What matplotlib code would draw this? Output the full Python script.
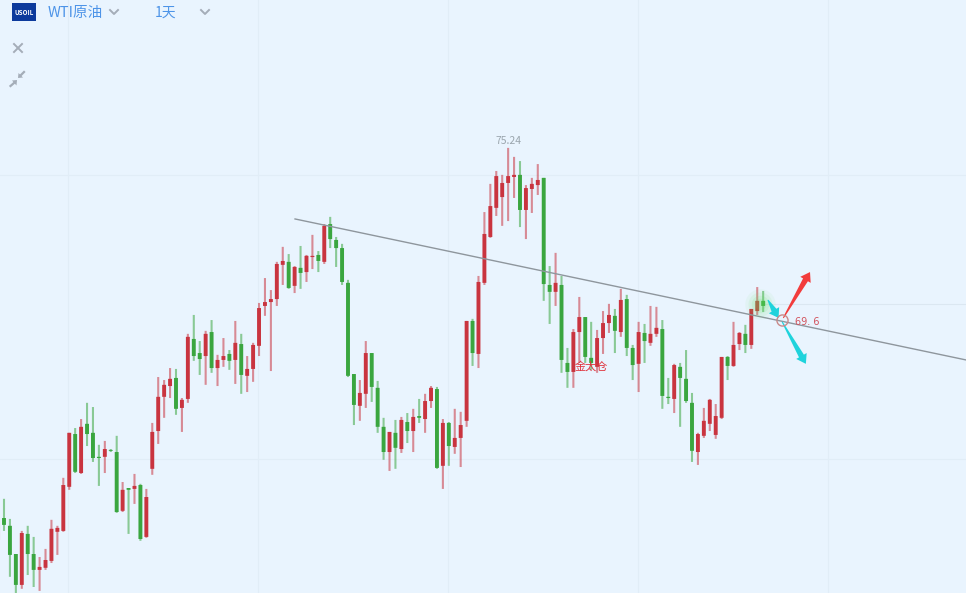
import matplotlib
matplotlib.use('Agg')
import matplotlib.pyplot as plt
import numpy as np
from matplotlib.patches import Polygon, Rectangle
from matplotlib.transforms import IdentityTransform

plt.rcParams['font.family'] = ['Noto Sans CJK SC', 'DejaVu Sans']

# daily candles, oldest first
opens = [62.17, 62.90, 62.64, 61.70, 60.67, 62.37, 61.70, 61.17, 61.24, 61.47, 62.44,
         62.47, 63.94, 65.70, 64.40, 66.04, 65.74, 64.94, 64.94, 65.17, 65.10,
         63.14, 63.90, 63.87, 64.00, 62.27, 64.54, 65.80, 66.94, 67.30, 67.57,
         66.57, 66.87, 68.87, 68.40, 68.30, 69.10, 67.90, 68.17, 68.37, 68.17,
         68.70, 67.64, 67.87, 68.64, 69.97, 70.10, 70.20, 71.34, 71.44, 70.64,
         71.24, 71.10, 71.60, 71.67, 71.44, 72.70, 72.17, 71.90, 70.74, 67.70,
         66.64, 67.04, 68.40, 67.24, 65.94, 65.10, 65.74, 65.20, 66.10, 65.80,
         66.30, 66.20, 66.80, 67.20, 64.64, 66.07, 65.27, 65.57, 66.14, 69.47,
         68.37, 70.74, 72.27, 73.24, 73.60, 74.07, 74.27, 74.34, 73.17, 73.87,
         74.00, 74.24, 70.67, 70.44, 70.67, 68.07, 67.77, 69.10, 69.60, 68.24,
         67.94, 68.90, 69.40, 69.64, 69.10, 70.20, 68.57, 68.04, 69.07, 68.74,
         69.04, 69.20, 66.94, 66.87, 67.94, 67.54, 66.74, 65.10, 65.64, 66.04,
         65.67, 66.24, 68.27, 67.97, 68.70, 69.04, 68.67, 69.80, 70.14]
closes = [62.84, 62.67, 61.67, 60.67, 62.40, 61.70, 61.17, 61.27, 61.50, 62.54, 62.57,
          64.00, 65.74, 64.44, 65.94, 65.70, 64.90, 64.90, 65.20, 65.14, 63.10,
          63.84, 63.84, 63.97, 62.20, 63.60, 65.77, 66.94, 67.34, 67.54, 66.54,
          66.84, 68.94, 68.30, 68.20, 69.04, 67.90, 68.17, 68.30, 68.14, 68.74,
          67.67, 67.87, 68.67, 69.90, 70.10, 70.20, 71.37, 71.47, 70.57, 71.27,
          71.07, 71.64, 71.64, 71.47, 72.64, 72.20, 71.90, 70.77, 67.64, 66.67,
          67.07, 68.40, 67.27, 65.94, 65.10, 65.77, 65.24, 66.17, 65.80, 66.27,
          66.24, 66.80, 67.24, 64.57, 66.07, 65.30, 65.57, 66.00, 69.47, 68.40,
          70.77, 72.37, 73.30, 74.30, 74.07, 74.30, 74.34, 73.17, 73.90, 74.04,
          74.17, 70.70, 70.44, 70.74, 68.17, 67.77, 69.10, 69.60, 68.27, 68.07,
          68.90, 69.40, 69.67, 69.14, 70.17, 68.57, 68.00, 69.10, 68.80, 69.04,
          69.24, 66.97, 66.90, 68.00, 67.57, 66.80, 65.14, 65.70, 66.14, 66.84,
          66.30, 68.27, 67.97, 68.67, 69.07, 68.67, 69.87, 70.14, 69.97]
highs = [62.90, 63.54, 62.87, 61.70, 62.47, 62.64, 62.27, 61.60, 61.87, 62.84, 62.64,
         64.24, 65.74, 65.90, 66.20, 66.74, 66.60, 65.34, 65.47, 65.20, 65.64,
         64.10, 63.90, 64.37, 64.04, 63.87, 66.07, 67.60, 67.50, 67.90, 67.87,
         66.90, 69.04, 69.67, 68.80, 69.14, 69.50, 68.34, 68.90, 68.50, 69.47,
         69.04, 68.30, 68.74, 70.07, 70.90, 70.50, 71.44, 71.94, 71.70, 71.30,
         71.97, 71.67, 72.34, 71.80, 72.70, 72.94, 72.27, 72.04, 70.84, 67.70,
         67.50, 68.80, 68.40, 67.47, 66.24, 65.77, 66.17, 66.27, 66.40, 66.54,
         66.87, 67.04, 67.30, 67.27, 66.20, 66.10, 66.54, 66.44, 69.47, 69.54,
         70.97, 73.10, 74.04, 74.47, 74.34, 75.24, 74.94, 74.80, 74.00, 74.24,
         74.70, 74.24, 71.30, 71.74, 70.97, 68.57, 69.20, 70.27, 69.60, 69.44,
         69.17, 69.80, 70.04, 69.87, 70.54, 70.34, 68.67, 69.44, 69.37, 69.97,
         69.94, 69.50, 67.57, 68.04, 68.07, 68.50, 67.07, 65.74, 66.57, 66.87,
         66.70, 68.27, 68.30, 69.44, 69.10, 69.34, 69.87, 70.60, 70.47]
lows = [61.90, 62.47, 60.94, 60.34, 60.54, 61.00, 60.60, 60.47, 61.17, 61.40, 61.67,
        62.44, 63.84, 64.40, 64.37, 65.30, 64.77, 63.97, 64.40, 65.10, 63.07,
        63.10, 62.37, 63.37, 62.14, 62.24, 64.34, 65.37, 66.24, 66.90, 66.34,
        65.77, 66.74, 68.14, 67.67, 67.34, 67.74, 67.30, 67.94, 67.84, 67.37,
        67.04, 67.10, 67.44, 68.30, 69.64, 67.80, 69.97, 70.67, 70.54, 70.40,
        70.54, 70.77, 71.20, 71.10, 71.37, 71.90, 71.27, 70.67, 67.60, 66.00,
        66.14, 66.57, 66.77, 65.74, 64.84, 64.47, 64.54, 65.07, 65.40, 65.10,
        66.07, 65.74, 66.57, 64.54, 63.87, 64.64, 65.04, 64.60, 65.94, 67.97,
        67.90, 70.67, 72.24, 72.97, 72.64, 72.80, 73.57, 72.60, 72.20, 73.07,
        73.67, 70.14, 69.37, 69.97, 67.74, 67.24, 67.24, 68.07, 68.07, 67.84,
        67.74, 68.37, 69.07, 68.40, 68.94, 68.30, 67.50, 67.10, 68.07, 68.64,
        68.94, 66.54, 66.70, 66.40, 65.94, 66.74, 64.77, 64.67, 65.57, 65.80,
        65.54, 66.20, 67.50, 67.94, 68.50, 68.40, 68.54, 69.67, 69.77]

grid_prices = [74.34, 64.87]
last_price = 70.04
grid_days = [11.79, 43.83, 75.87, 107.9, 139.95]
trend_days = [50.07, 163.2]
trend_prices = [72.87, 68.17]

BG = '#e9f4fe'
RED = '#c9343f'
GREEN = '#3aa63f'

fig = plt.figure(figsize=(9.66, 5.93), dpi=100, facecolor=BG)
ax = fig.add_axes([0, 0, 1, 1], facecolor=BG)
ax.set_xlim(0.3255, 163.2)
ax.set_ylim(60.40, 80.17)
ax.axis('off')

for p in grid_prices:
    ax.axhline(p, color='#e1edf7', lw=0.8, zorder=1)
for d in grid_days:
    ax.axvline(d, color='#e1edf7', lw=0.8, zorder=1)
ax.hlines(last_price, 129, 163.2, color='#dbe7f1', lw=0.8, zorder=1)

days = np.arange(len(opens))
opens = np.array(opens)
closes = np.array(closes)
highs = np.array(highs)
lows = np.array(lows)
colors = [RED if c >= o else GREEN for o, c in zip(opens, closes)]

wicks = ax.vlines(days, lows, highs, colors=colors, lw=1.5, alpha=0.55, zorder=2)
wicks.set_snap(False)
bars = ax.bar(days, np.abs(closes - opens), bottom=np.minimum(opens, closes), width=0.66,
              color=colors, zorder=3)
for b in bars:
    b.set_snap(False)

ax.plot(trend_days, trend_prices, color='#8e969d', lw=1, zorder=4)

# glow over the last two candles
for s, a in [(480, 0.06), (300, 0.09), (160, 0.12), (70, 0.15)]:
    ax.scatter([128.4], [70.05], s=s, color='#62e062', alpha=a, lw=0, zorder=5)


def arrow(x0, y0, x1, y1, color):
    # tapered arrow, given in days and prices
    a, b = ax.transData.transform([(x0, y0), (x1, y1)])
    d = (b - a) / np.hypot(*(b - a))
    n = np.array([-d[1], d[0]])
    neck = b - d * 9
    pts = [a + n * 0.5, neck + n * 2.8, neck + n * 6, b, neck - n * 6, neck - n * 2.8, a - n * 0.5]
    ax.add_patch(Polygon(pts, closed=True, color=color, lw=0, transform=IdentityTransform(), zorder=6))


arrow(132.4, 69.57, 136.9, 71.10, '#f23c3c')
arrow(132.2, 69.44, 136.2, 68.04, '#1fd3dc')
arrow(129.8, 70.17, 131.6, 69.57, '#1fd3dc')

ax.plot([132.2], [69.5], marker='o', ms=8, mfc='none', mec='#c98a8a', mew=1, zorder=7)
ax.text(134.4, 69.43, '69. 6', color='#d2525c', fontsize=7, family='DejaVu Sans', ha='left', va='center', zorder=7)
ax.text(86, 75.47, '75.24', color='#9aa5ad', fontsize=7.5, ha='center', va='center', zorder=7)
ax.text(100, 67.97, '金太仓', color='#e0323c', fontsize=8, ha='center', va='center', zorder=7)


# header, placed in figure pixels
def fx(x):
    return x / 966


def fy(y):
    return 1 - y / 593


fig.add_artist(Rectangle((fx(12), fy(21)), 24 / 966, 18 / 593, color='#0c3a9c', lw=0))
fig.text(fx(24), fy(12.5), 'USOIL', color='white', fontsize=4.5, weight='bold', ha='center', va='center')
fig.text(fx(48), fy(13), 'WTI原油', color='#4d94e8', fontsize=10.5, ha='left', va='center')
fig.text(fx(155), fy(13), '1天', color='#4d94e8', fontsize=10, ha='left', va='center')


def fig_line(xs, ys, color='#a4adb8', lw=1.4):
    fig.add_artist(plt.Line2D([fx(v) for v in xs], [fy(v) for v in ys], color=color, lw=lw,
                              transform=fig.transFigure))


def fig_tri(pts, color='#a4adb8'):
    fig.add_artist(Polygon([(fx(x), fy(y)) for x, y in pts], closed=True, color=color, lw=0,
                           transform=fig.transFigure))


for cx in [114, 205]:
    fig_line([cx - 4, cx, cx + 4], [10, 14, 10])
fig_line([14, 22], [44, 52])
fig_line([14, 22], [52, 44])
# compress icon
fig_tri([(17, 80), (12, 80.5), (16.5, 85.5)])
fig_line([14, 10.5], [83, 86], lw=1.6)
fig_tri([(18, 78), (23, 77.5), (18.5, 73)])
fig_line([20.5, 24], [75.5, 72], lw=1.6)

fig.savefig('out.png', dpi=100, facecolor=BG)
